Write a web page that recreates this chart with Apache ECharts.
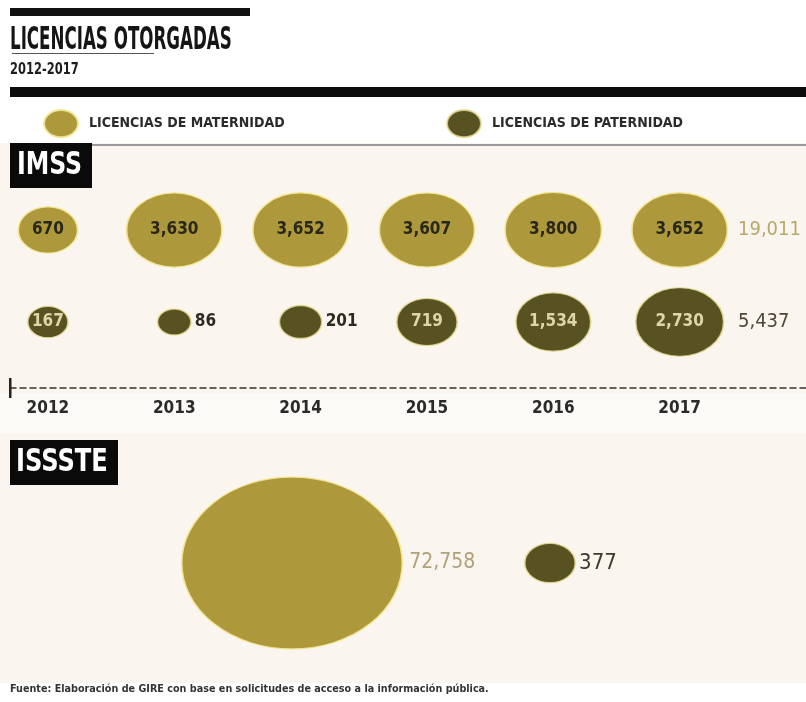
<!DOCTYPE html>
<html>
<head>
<meta charset="utf-8">
<script src="https://cdn.jsdelivr.net/npm/echarts@6/dist/echarts.min.js"></script>
<style>
  html, body { margin: 0; padding: 0; background: #ffffff; }
  #chart { width: 806px; height: 702px; }
</style>
</head>
<body>
<div id="chart"></div>
<script>
// ---------------- data ----------------
const years = [2012, 2013, 2014, 2015, 2016, 2017];
const maternidadIMSS = [670, 3630, 3652, 3607, 3800, 3652];
const paternidadIMSS = [167, 86, 201, 719, 1534, 2730];
const rowCategories = ['PATERNIDAD', 'MATERNIDAD'];
const isssteCategories = ['MATERNIDAD', 'PATERNIDAD'];
const isssteValues = [72758, 377];
const seriesNames = ['LICENCIAS DE MATERNIDAD', 'LICENCIAS DE PATERNIDAD'];

// ---------------- style config ----------------
const COL_MAT = '#ad993c';
const COL_PAT = '#585222';
const ELLIPSE = 'path://M0,40 A50,40 0 1 1 100,40 A50,40 0 1 1 0,40 Z';
const COND = "'DejaVu Sans Condensed', 'Liberation Sans Narrow', sans-serif";
const labelOutsideYears = [2013, 2014];

const fmt = v => v.toLocaleString('en-US');
const sum = a => a.reduce((s, v) => s + v, 0);
const sizeOf = v => { const w = 9.6 * Math.pow(v, 0.28); return [w, w * 0.78]; };

const totalsRight = [sum(paternidadIMSS), sum(maternidadIMSS)];

const chart = echarts.init(document.getElementById('chart'), null, { renderer: 'canvas' });

const option = {
  animation: false,
  backgroundColor: '#ffffff',
  legend: [
    {
      left: 38, top: 104, itemWidth: 34, itemHeight: 30, selectedMode: false,
      data: [{ name: seriesNames[0], icon: ELLIPSE }],
      textStyle: { fontFamily: COND, fontWeight: 'bold', fontSize: 14, color: '#2b2b2b', padding: [0, 0, 0, 6] }
    },
    {
      left: 441, top: 104, itemWidth: 34, itemHeight: 30, selectedMode: false,
      data: [{ name: seriesNames[1], icon: ELLIPSE }],
      textStyle: { fontFamily: COND, fontWeight: 'bold', fontSize: 14, color: '#2b2b2b', padding: [0, 0, 0, 6] }
    }
  ],
  grid: [
    { left: 10, width: 796, top: 184, height: 184, containLabel: false, outerBoundsMode: 'none' },
    { left: 163, width: 516, top: 480, height: 166, containLabel: false, outerBoundsMode: 'none' }
  ],
  xAxis: [
    {
      gridIndex: 0, type: 'value', min: 2011.7, max: 2018, offset: 20,
      splitLine: { show: false },
      axisLine: { show: true, lineStyle: { color: '#333333', width: 1.5, type: [6, 4] } },
      axisTick: { show: false },
      axisLabel: {
        customValues: years, formatter: v => String(v), margin: 12,
        fontFamily: COND, fontWeight: 'bold', fontSize: 17, color: '#2a2a2a'
      }
    },
    {
      gridIndex: 1, type: 'category', data: isssteCategories, show: false
    }
  ],
  yAxis: [
    { gridIndex: 0, type: 'category', data: rowCategories, show: false },
    {
      gridIndex: 0, type: 'category', position: 'right', offset: -76,
      data: totalsRight.map(fmt),
      axisLine: { show: false }, axisTick: { show: false }, splitLine: { show: false },
      axisLabel: {
        margin: 8, align: 'left',
        formatter: (v, i) => i === 1 ? '{m|' + v + '}' : '{p|' + v + '}',
        rich: {
          m: { fontFamily: COND, fontSize: 20, color: '#b7a86c' },
          p: { fontFamily: COND, fontSize: 20, color: '#4d4838' }
        }
      }
    },
    { gridIndex: 1, type: 'category', data: ['ISSSTE'], show: false }
  ],
  series: [
    {
      name: seriesNames[0], type: 'scatter', xAxisIndex: 0, yAxisIndex: 0,
      symbol: ELLIPSE, symbolSize: v => sizeOf(v[2]),
      itemStyle: { color: COL_MAT, borderColor: 'rgba(245,232,150,0.9)', borderWidth: 1.5, opacity: 1 },
      data: years.map((y, i) => [y, rowCategories[1], maternidadIMSS[i]]),
      label: {
        show: true, position: 'inside', formatter: p => fmt(p.value[2]),
        fontFamily: COND, fontWeight: 'bold', fontSize: 17, color: '#29271a'
      },
      z: 3
    },
    {
      name: seriesNames[1], type: 'scatter', xAxisIndex: 0, yAxisIndex: 0,
      symbol: ELLIPSE, symbolSize: v => sizeOf(v[2]),
      itemStyle: { color: COL_PAT, borderColor: 'rgba(230,220,150,0.8)', borderWidth: 1.5, opacity: 1 },
      data: years.map((y, i) => {
        const outside = labelOutsideYears.includes(y);
        return {
          value: [y, rowCategories[0], paternidadIMSS[i]],
          label: outside
            ? { position: 'right', distance: 3, color: '#2c2a20' }
            : { position: 'inside', color: '#ddd6ab' }
        };
      }),
      label: {
        show: true, formatter: p => fmt(p.value[2]),
        fontFamily: COND, fontWeight: 'bold', fontSize: 17
      },
      z: 3
    },
    {
      name: seriesNames[0], type: 'scatter', xAxisIndex: 1, yAxisIndex: 2,
      symbol: ELLIPSE, symbolSize: v => sizeOf(v[2]),
      itemStyle: { color: COL_MAT, borderColor: 'rgba(245,232,150,0.9)', borderWidth: 1.5, opacity: 1 },
      data: [[isssteCategories[0], 'ISSSTE', isssteValues[0]]],
      label: {
        show: true, position: 'right', distance: 6, formatter: p => fmt(p.value[2]),
        fontFamily: COND, fontSize: 21, color: '#aea27a'
      },
      z: 3
    },
    {
      name: seriesNames[1], type: 'scatter', xAxisIndex: 1, yAxisIndex: 2,
      symbol: ELLIPSE, symbolSize: v => sizeOf(v[2]),
      itemStyle: { color: COL_PAT, borderColor: 'rgba(230,220,150,0.8)', borderWidth: 1.5, opacity: 1 },
      data: [[isssteCategories[1], 'ISSSTE', isssteValues[1]]],
      label: {
        show: true, position: 'right', distance: 3, formatter: p => fmt(p.value[2]),
        fontFamily: COND, fontSize: 22, color: '#3d3a2c'
      },
      z: 3
    }
  ],
  graphic: [
    // backgrounds
    { type: 'rect', z: -1, shape: { x: 0, y: 143, width: 806, height: 250 }, style: { fill: '#faf6ef' }, silent: true },
    { type: 'rect', z: -1, shape: { x: 0, y: 393, width: 806, height: 40 }, style: { fill: '#fcfaf6' }, silent: true },
    { type: 'rect', z: -1, shape: { x: 0, y: 433, width: 806, height: 250 }, style: { fill: '#faf6ef' }, silent: true },
    // header
    { type: 'rect', shape: { x: 10, y: 8, width: 240, height: 8 }, style: { fill: '#111111' } },
    {
      type: 'text', x: 10, y: 25, scaleX: 0.58,
      style: { text: 'LICENCIAS OTORGADAS', font: "bold 32px " + COND, fill: '#151515', textVerticalAlign: 'top' }
    },
    { type: 'rect', shape: { x: 12, y: 53, width: 142, height: 1 }, style: { fill: '#555555' } },
    {
      type: 'text', x: 10, y: 63, scaleX: 0.85,
      style: { text: '2012-2017', font: "bold 15px " + COND, fill: '#1c1c1c', textVerticalAlign: 'top' }
    },
    { type: 'rect', shape: { x: 10, y: 87, width: 796, height: 10 }, style: { fill: '#0c0c0c' } },
    { type: 'rect', shape: { x: 92, y: 144, width: 714, height: 2 }, style: { fill: '#9a9a9a' } },
    // IMSS box
    { type: 'rect', z: 10, shape: { x: 10, y: 143, width: 82, height: 45 }, style: { fill: '#0a0a0a' } },
    {
      type: 'text', z: 11, x: 17, y: 166, scaleX: 0.82,
      style: { text: 'IMSS', font: "bold 32px " + COND, fill: '#ffffff', textVerticalAlign: 'middle' }
    },
    // axis start tick
    { type: 'rect', z: 10, shape: { x: 9, y: 378, width: 2.5, height: 20 }, style: { fill: '#222222' } },
    // ISSSTE box
    { type: 'rect', z: 10, shape: { x: 10, y: 440, width: 108, height: 45 }, style: { fill: '#0a0a0a' } },
    {
      type: 'text', z: 11, x: 16, y: 463, scaleX: 0.84,
      style: { text: 'ISSSTE', font: "bold 32px " + COND, fill: '#ffffff', textVerticalAlign: 'middle' }
    },
    // footer
    {
      type: 'text', x: 10, y: 689, scaleX: 1.02,
      style: { text: 'Fuente: Elaboración de GIRE con base en solicitudes de acceso a la información pública.', font: "bold 10.5px " + COND, fill: '#333333', textVerticalAlign: 'middle' }
    }
  ]
};

chart.setOption(option);
</script>
</body>
</html>
